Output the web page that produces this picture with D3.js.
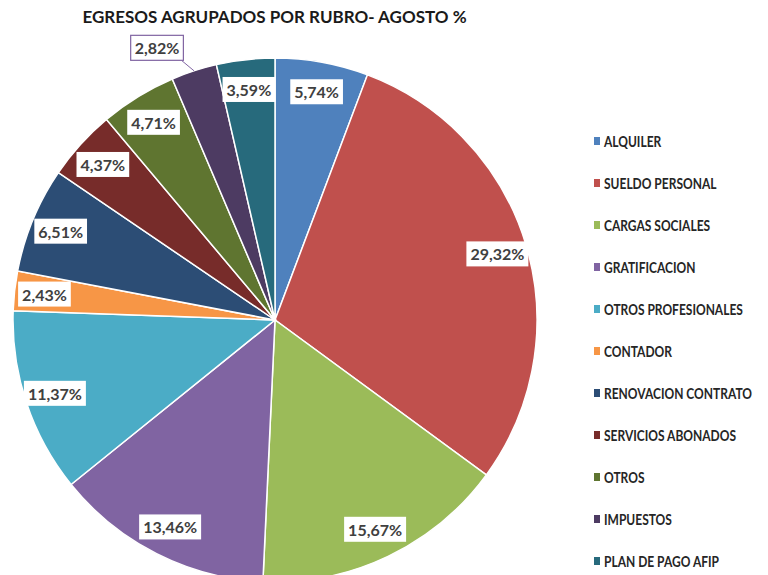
<!DOCTYPE html>
<html>
<head>
<meta charset="utf-8">
<script src="https://cdn.jsdelivr.net/npm/d3@7"></script>
<style>
  html, body { margin: 0; padding: 0; background: #ffffff; }
  svg { display: block; }
</style>
</head>
<body>
<svg id="chart" width="768" height="575"></svg>
<script>
const title = "EGRESOS AGRUPADOS POR RUBRO- AGOSTO %";
const categories = ["ALQUILER", "SUELDO PERSONAL", "CARGAS SOCIALES", "GRATIFICACION",
  "OTROS PROFESIONALES", "CONTADOR", "RENOVACION CONTRATO", "SERVICIOS ABONADOS",
  "OTROS", "IMPUESTOS", "PLAN DE PAGO AFIP"];
const values = [5.74, 29.32, 15.67, 13.46, 11.37, 2.43, 6.51, 4.37, 4.71, 2.82, 3.59];
const colors = ["#4F81BD", "#C0504D", "#9BBB59", "#8064A2", "#4BACC6", "#F79646",
  "#2C4D75", "#772C2A", "#5F7530", "#4D3B62", "#276A7C"];
const calloutIndex = 9; // label drawn outside with leader line

const svg = d3.select("#chart");
const cx = 275, cy = 320, R = 262;
const fmt = v => v.toFixed(2).replace(".", ",") + "%";

// Title
svg.append("text")
  .attr("x", 274.5).attr("y", 23)
  .attr("text-anchor", "middle")
  .attr("font-family", "Lato, 'Open Sans', sans-serif")
  .attr("font-weight", "bold")
  .attr("font-size", 17)
  .attr("fill", "#1a1a1a")
  .text(title);

const data = categories.map((c, i) => ({ name: c, value: values[i], color: colors[i], i }));
const pie = d3.pie().value(d => d.value).sort(null);
const arcs = pie(data);
const arc = d3.arc().innerRadius(0).outerRadius(R);
const labelArc = d3.arc().innerRadius(232).outerRadius(232);

const g = svg.append("g").attr("transform", `translate(${cx},${cy})`);
g.selectAll("path.slice").data(arcs).enter().append("path")
  .attr("class", "slice")
  .attr("d", arc)
  .attr("fill", d => d.data.color)
  .attr("stroke", "#ffffff")
  .attr("stroke-width", 1.5);

// Labels
const lg = g.append("g");
arcs.forEach(a => {
  let x, y;
  const isCallout = a.data.i === calloutIndex;
  if (isCallout) {
    const mid = (a.startAngle + a.endAngle) / 2;
    const ex = Math.sin(mid) * R, ey = -Math.cos(mid) * R;
    x = ex - 37; y = ey - 23;
    lg.append("line")
      .attr("x1", ex).attr("y1", ey)
      .attr("x2", x + 25).attr("y2", y + 13)
      .attr("stroke", "#8064A2").attr("stroke-width", 1);
  } else {
    [x, y] = labelArc.centroid(a);
  }
  const grp = lg.append("g").attr("transform", `translate(${x},${y})`);
  const rect = grp.append("rect").attr("fill", "#ffffff");
  const t = grp.append("text")
    .attr("text-anchor", "middle")
    .attr("dominant-baseline", "central")
    .attr("font-family", "Lato, 'Open Sans', sans-serif")
    .attr("font-weight", "bold")
    .attr("font-size", 16)
    .attr("fill", "#404040")
    .text(fmt(a.data.value));
  const w = t.node().getComputedTextLength();
  rect.attr("x", -w / 2 - 4).attr("y", -12.5).attr("width", w + 8).attr("height", 25);
  if (isCallout) rect.attr("stroke", "#8064A2").attr("stroke-width", 1.2);
});

// Legend
const legend = svg.append("g").attr("transform", "translate(594,141)");
const items = legend.selectAll("g").data(data).enter().append("g")
  .attr("transform", (d, i) => `translate(0,${i * 42})`);
items.append("rect")
  .attr("x", 0).attr("y", -4).attr("width", 6).attr("height", 8)
  .attr("fill", d => d.color);
const texts = items.append("g").attr("transform", "translate(10,0)")
  .append("text")
  .attr("x", 0).attr("y", 0)
  .attr("dominant-baseline", "central")
  .attr("font-family", "Lato, sans-serif")
  .attr("font-weight", "bold")
  .attr("font-size", 15)
  .attr("fill", "#262626")
  .text(d => d.name);
// condense horizontally so the longest reference entry spans ~139px
const refW = texts.filter(d => d.name === "OTROS PROFESIONALES").node().getComputedTextLength();
const sx = 139 / refW;
texts.attr("transform", `scale(${sx},1)`);
</script>
</body>
</html>
